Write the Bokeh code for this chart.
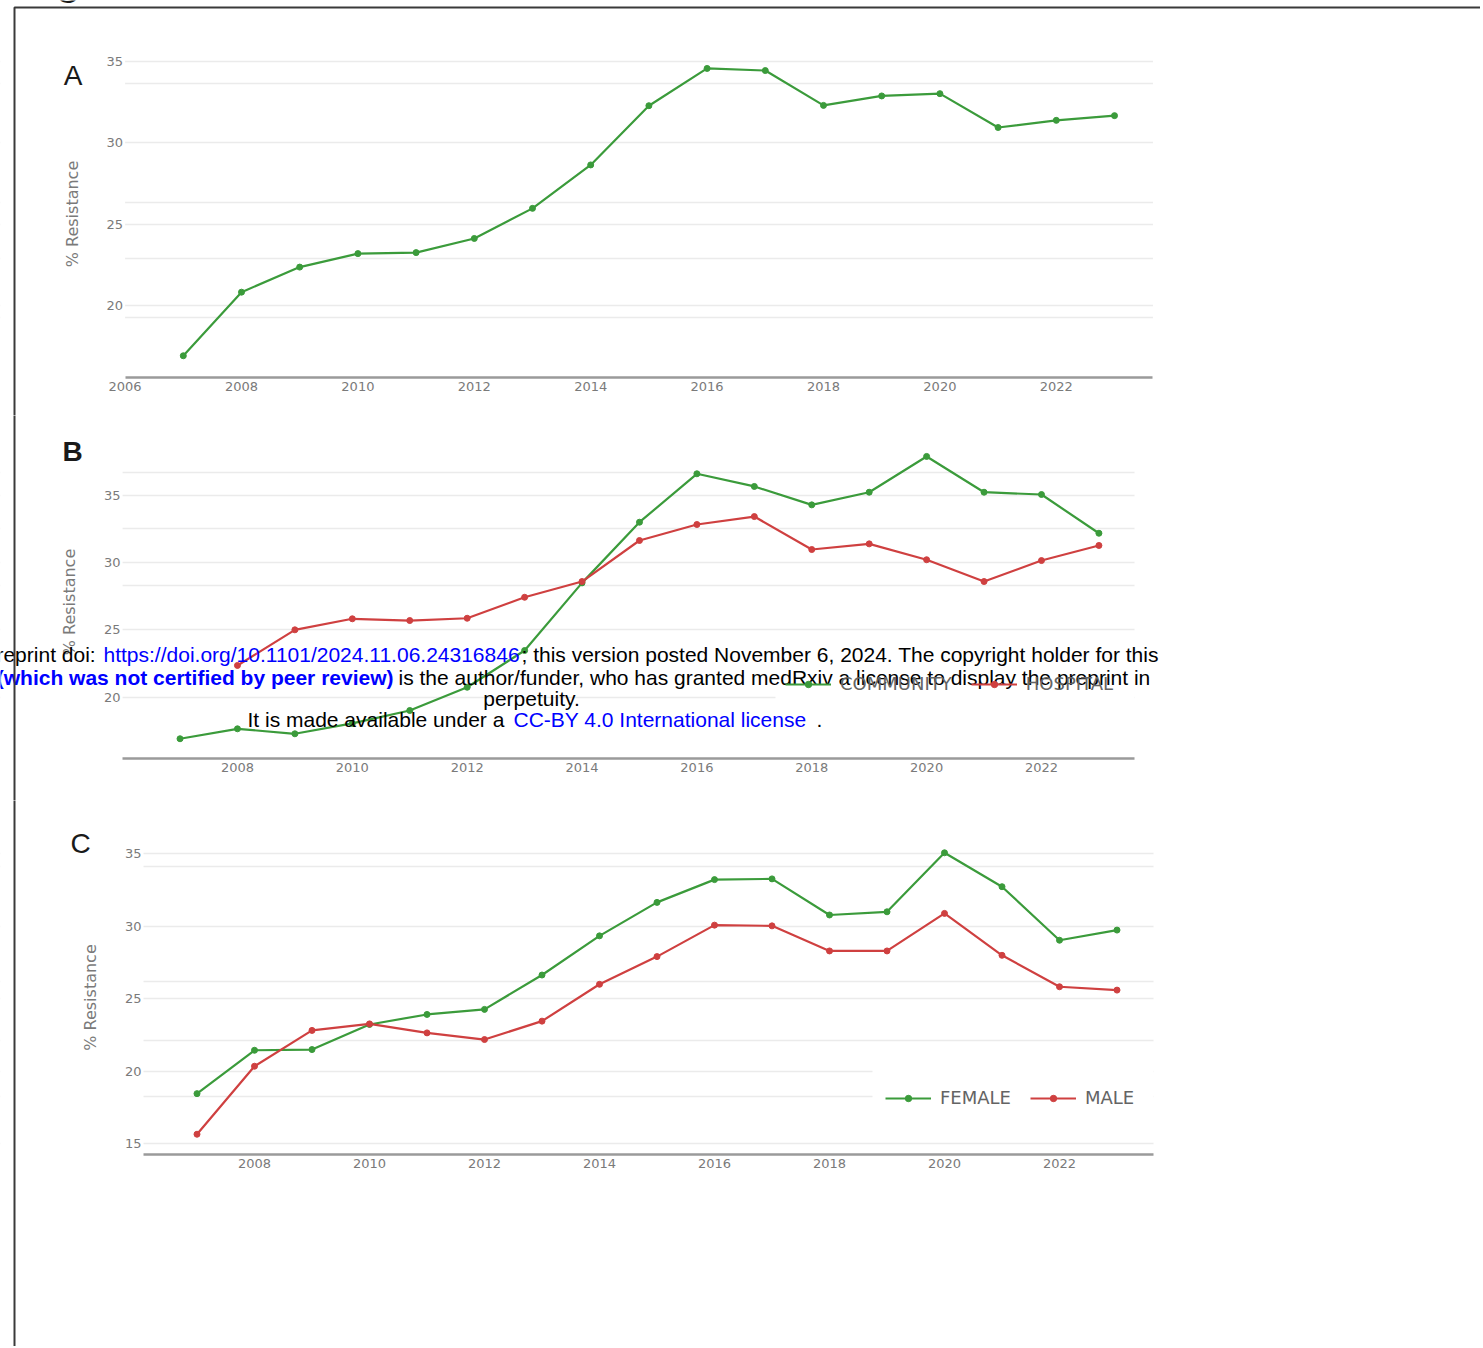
import numpy as np
from bokeh.plotting import figure
from bokeh.models import (Range1d, FixedTicker, Label, Legend, LegendItem,
                          ColumnDataSource, BoxAnnotation)
from bokeh.layouts import column
from bokeh.embed import file_html
from bokeh.resources import INLINE

nan = float("nan")

# ---------------- data ----------------
years = list(range(2007, 2024))

# Panel A : overall resistance
overall = [16.91, 20.82, 22.36, 23.19, 23.25, 24.12, 25.97, 28.64, 32.28,
           34.57, 34.44, 32.30, 32.88, 33.02, 30.94, 31.38, 31.67]

# Panel B : community vs hospital
community = [16.91, 17.65, 17.28, 18.05, 19.01, 20.74, 23.47, 28.50, 33.01,
             36.61, 35.67, 34.30, 35.24, 37.90, 35.24, 35.07, 32.19]
hospital = [nan, 22.36, 25.01, 25.83, 25.70, 25.87, 27.43, 28.60, 31.65,
            32.84, 33.43, 30.98, 31.40, 30.22, 28.60, 30.16, 31.28]

# Panel C : female vs male
female = [18.46, 21.45, 21.50, 23.23, 23.92, 24.27, 26.64, 29.34, 31.65,
          33.22, 33.27, 30.78, 31.00, 35.07, 32.73, 29.04, 29.74]
male = [15.66, 20.35, 22.82, 23.27, 22.65, 22.19, 23.46, 26.00, 27.91,
        30.08, 30.03, 28.30, 28.30, 30.89, 28.00, 25.83, 25.60]

xticks_a = [2006, 2008, 2010, 2012, 2014, 2016, 2018, 2020, 2022]
xticks_bc = [2008, 2010, 2012, 2014, 2016, 2018, 2020, 2022]
yticks_ab = [20, 25, 30, 35]
yticks_c = [15, 20, 25, 30, 35]
grid_a = [19.28, 20, 22.87, 25, 26.35, 30, 33.63, 35]
grid_b = [20, 25, 28.28, 30, 32.55, 35, 36.73]
grid_c = [15, 18.28, 20, 22.15, 25, 26.2, 30, 34.15, 35]

GREEN = "#3b9b3b"
RED = "#cf4040"

# ---------------- layout constants (page pixels) ----------------
W = 1480


def make_panel(top, height, axis_px, area_top_px, x0_px, px_per_year, x_bounds,
               y_ref, y_ref_px, px_per_unit, xticks, yticks, grid):
    """Figure occupies page rows top..top+height; axis_px = page y of the x axis."""
    xs = 2006 - x0_px / px_per_year
    xe = xs + W / px_per_year
    ye = y_ref + (y_ref_px - top) / px_per_unit
    ys = y_ref - (top + height - y_ref_px) / px_per_unit
    y_axis = y_ref - (axis_px - y_ref_px) / px_per_unit
    y_area_top = y_ref + (y_ref_px - area_top_px) / px_per_unit
    p = figure(width=W, height=height, x_range=Range1d(xs, xe), y_range=Range1d(ys, ye),
               output_backend="svg", toolbar_location=None, title=None,
               min_border_left=0, min_border_right=0, min_border_top=0,
               min_border_bottom=0)
    p.outline_line_color = None
    p.background_fill_color = "white"
    p.border_fill_color = "white"
    p.xgrid.visible = False
    p.ygrid.ticker = FixedTicker(ticks=grid)
    p.ygrid.grid_line_color = "#ebebeb"
    p.ygrid.grid_line_width = 1.5
    # hide grid outside the plotting area
    p.add_layout(BoxAnnotation(right=x_bounds[0], fill_color="white", fill_alpha=1,
                               line_color=None, level="underlay"))
    p.add_layout(BoxAnnotation(left=x_bounds[1], fill_color="white", fill_alpha=1,
                               line_color=None, level="underlay"))
    p.xaxis.ticker = FixedTicker(ticks=xticks)
    p.xaxis.bounds = x_bounds
    p.xaxis.fixed_location = y_axis
    p.yaxis.ticker = FixedTicker(ticks=yticks)
    p.yaxis.bounds = (y_axis, y_area_top)
    p.yaxis.fixed_location = x_bounds[0]
    for ax in (p.xaxis[0], p.yaxis[0]):
        ax.major_tick_line_color = None
        ax.minor_tick_line_color = None
        ax.major_tick_out = 0
        ax.major_tick_in = 0
        ax.minor_tick_out = 0
        ax.major_label_text_font = "DejaVu Sans"
        ax.major_label_text_font_size = "13px"
        ax.major_label_text_color = "#7a7a7a"
    p.xaxis.major_label_standoff = 4
    p.yaxis.major_label_standoff = 2
    p.xaxis.axis_line_color = "#9a9a9a"
    p.xaxis.axis_line_width = 2.5
    p.yaxis.axis_line_color = None
    p.yaxis.axis_label = "% Resistance"
    p.yaxis.axis_label_text_font = "DejaVu Sans"
    p.yaxis.axis_label_text_font_size = "16px"
    p.yaxis.axis_label_text_font_style = "normal"
    p.yaxis.axis_label_text_color = "#7a7a7a"
    p.yaxis.axis_label_standoff = 22
    return p


def add_series(p, values, color):
    src = ColumnDataSource(dict(x=years, y=values))
    ln = p.line("x", "y", source=src, line_color=color, line_width=2.2)
    sc = p.scatter("x", "y", source=src, size=6, fill_color=color, line_color=color)
    return [ln, sc]


def page_label(p, top, height, text, px, py, size="28px", font="Liberation Sans",
               color="#1a1a1a", align="center", style="normal", baseline="middle"):
    p.add_layout(Label(x=px, y=top + height - py, x_units="screen", y_units="screen",
                       text=text, text_font=font, text_font_size=size,
                       text_font_style=style, text_color=color, text_align=align,
                       text_baseline=baseline))


def make_legend(p, top, height, items, glyph_left_px, center_py, box):
    bl, br, bt, bb = box
    bottom = top + height
    p.add_layout(BoxAnnotation(left=bl, right=br, top=bottom - bt, bottom=bottom - bb,
                               left_units="screen", right_units="screen",
                               top_units="screen", bottom_units="screen",
                               fill_color="white", fill_alpha=1,
                               line_color=None, level="underlay"))
    leg = Legend(items=items, orientation="horizontal",
                 location=(glyph_left_px, bottom - center_py - 8),
                 background_fill_alpha=0.0, border_line_color=None,
                 label_text_font="DejaVu Sans", label_text_font_size="18px",
                 label_text_color="#646464", glyph_width=46, glyph_height=16,
                 label_height=16, label_standoff=9, spacing=19, padding=0, margin=0)
    p.add_layout(leg, "center")


def page_border(p, top, height, border_top_py=None):
    """Left (and optionally top) border of the scanned page frame."""
    t = height + 30 if border_top_py is None else top + height - border_top_py
    p.add_layout(BoxAnnotation(left=14, right=W + 30, top=t, bottom=-30,
                               left_units="screen", right_units="screen",
                               top_units="screen", bottom_units="screen",
                               fill_alpha=0, line_color="#3a3a3a", line_alpha=1.0,
                               line_width=2, level="overlay"))


# ---------------- panel A ----------------
A_TOP, A_H = 0, 415
pA = make_panel(A_TOP, A_H, 377, 50, 124.6, 58.2, (2006.0, 2023.66),
                20, 305, 16.27, xticks_a, yticks_ab, grid_a)
add_series(pA, overall, GREEN)
page_label(pA, A_TOP, A_H, "A", 72.5, 75)
page_label(pA, A_TOP, A_H, "G", 67, -7, baseline="alphabetic")
page_border(pA, A_TOP, A_H, border_top_py=7)

# ---------------- panel B ----------------
B_TOP, B_H = A_TOP + A_H, 385
pB = make_panel(B_TOP, B_H, 758, 445, 122.1, 57.43, (2006.0, 2023.62),
                20, 696.7, 13.45, xticks_bc, yticks_ab, grid_b)
rc = add_series(pB, community, GREEN)
rh = add_series(pB, hospital, RED)
page_label(pB, B_TOP, B_H, "B", 72, 451, style="bold")
make_legend(pB, B_TOP, B_H, [LegendItem(label="COMMUNITY", renderers=rc),
                             LegendItem(label="HOSPITAL", renderers=rh)],
            785, 686, (775, 1134, 654, 712))

# medRxiv stamp over panel B (text, page x, page y, align, color, style)
stamp = [
    ("medRxiv preprint doi: ", 101, 654, "right", "#000000", "normal"),
    ("https://doi.org/10.1101/2024.11.06.24316846", 103, 654, "left", "#0000ff", "normal"),
    ("; this version posted November 6, 2024. The copyright holder for this", 521, 654, "left", "#000000", "normal"),
    ("preprint ", -7, 677, "right", "#000000", "normal"),
    ("(which was not certified by peer review)", 393, 677, "right", "#0000ff", "bold"),
    ("is the author/funder, who has granted medRxiv a license to display the preprint in", 398, 677, "left", "#000000", "normal"),
    ("perpetuity.", 531, 698, "center", "#000000", "normal"),
    ("It is made available under a ", 247, 719, "left", "#000000", "normal"),
    ("CC-BY 4.0 International license", 513, 719, "left", "#0000ff", "normal"),
    (".", 816, 719, "left", "#000000", "normal"),
]
for txt, px, py, al, col, sty in stamp:
    page_label(pB, B_TOP, B_H, txt, px, py, size="21px", font="Liberation Sans",
               color=col, align=al, style=sty)
page_border(pB, B_TOP, B_H)

# ---------------- panel C ----------------
C_TOP, C_H = B_TOP + B_H, 546
pC = make_panel(C_TOP, C_H, 1154, 840, 139.0, 57.5, (2006.07, 2023.635),
                15, 1143.3, 14.5, xticks_bc, yticks_c, grid_c)
rf = add_series(pC, female, GREEN)
rm = add_series(pC, male, RED)
page_label(pC, C_TOP, C_H, "C", 80, 843)
make_legend(pC, C_TOP, C_H, [LegendItem(label="FEMALE", renderers=rf),
                             LegendItem(label="MALE", renderers=rm)],
            885, 1100, (872, 1153, 1064, 1130))
page_border(pC, C_TOP, C_H)

page = column(pA, pB, pC)

open("out.html", "w").write(file_html(page, INLINE))
